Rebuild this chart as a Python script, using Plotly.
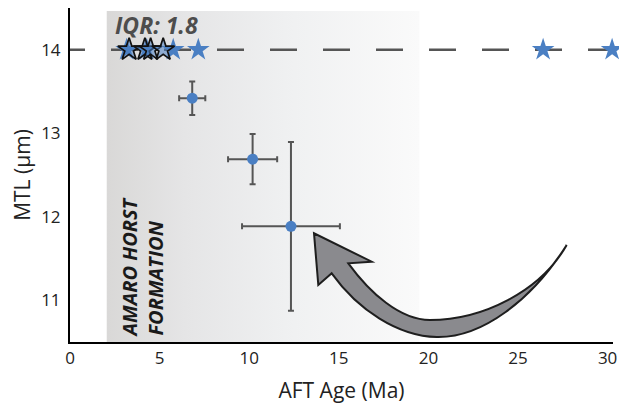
import plotly.graph_objects as go

# ---- data ----
circle_age = [6.82, 10.19, 12.33]
circle_age_err = [0.73, 1.37, 2.73]
circle_mtl = [13.42, 12.69, 11.885]
circle_mtl_err = [0.2, 0.3, 1.01]

blue_star_age = [3.16, 4.28, 5.76, 7.16, 26.4, 30.25]
blue_star_mtl = [14, 14, 14, 14, 14, 14]
open_star_age = [3.3, 4.18, 4.5, 5.2]
open_star_mtl = [14, 14, 14, 14]

ref_mtl = 14
x_ticks = [0, 5, 10, 15, 20, 25, 30]
y_ticks = [11, 12, 13, 14]
shade_x = [2.05, 19.5]
iqr_label = "IQR: 1.8"
zone_label = "AMARO HORST<br>FORMATION"

# ---- layout geometry (page has an 8px body margin) ----
OFF = 8
W, H = 627 - OFF, 408 - OFF
ML, MR, MT, MB = 70 - OFF, 14, 8 - OFF, 66
XR = [0, 30.3]
YR = [10.5, 14.5]
PW = W - ML - MR
PH = H - MT - MB

def px2d(px, py):
    # px, py are page pixel positions in the reference picture
    fx, fy = px - OFF, py - OFF
    x = XR[0] + (fx - ML) / PW * (XR[1] - XR[0])
    y = YR[1] - (fy - MT) / PH * (YR[1] - YR[0])
    return x, y

def pt(px, py):
    x, y = px2d(px, py)
    return f"{x:.4f},{y:.4f}"

BLUE = "#4a7fc3"
GREY = "#555555"
FONT = "Open Sans"

fig = go.Figure()

# gradient shaded zone
top_y = px2d(0, 11)[1]
fig.add_trace(go.Scatter(
    x=[shade_x[0], shade_x[1], shade_x[1], shade_x[0], shade_x[0]],
    y=[YR[0], YR[0], top_y, top_y, YR[0]],
    mode="lines", line=dict(width=0), fill="toself",
    fillgradient=dict(type="horizontal",
                      colorscale=[[0, "#d9d8d7"], [0.25, "#e5e5e6"],
                                  [0.6, "#f0f1f2"], [1, "#fafafa"]]),
    hoverinfo="skip", showlegend=False))

# dashed reference line
fig.add_trace(go.Scatter(
    x=[px2d(58, 0)[0], XR[1] + 1], y=[ref_mtl, ref_mtl],
    mode="lines", line=dict(color=GREY, width=2.5, dash="27px,26px"),
    hoverinfo="skip", showlegend=False))

# circles with error bars
fig.add_trace(go.Scatter(
    x=circle_age, y=circle_mtl, mode="markers",
    marker=dict(color=BLUE, size=11),
    error_x=dict(type="data", array=circle_age_err, color=GREY, thickness=2, width=3),
    error_y=dict(type="data", array=circle_mtl_err, color=GREY, thickness=2, width=3),
    showlegend=False))

# stars: plain blue ones underneath, outlined ones on top
fig.add_trace(go.Scatter(
    x=blue_star_age, y=blue_star_mtl, mode="markers",
    marker=dict(symbol="star", color=BLUE, size=17, line=dict(width=0)),
    cliponaxis=False, showlegend=False))
fig.add_trace(go.Scatter(
    x=open_star_age, y=open_star_mtl, mode="markers",
    marker=dict(symbol="star", color="rgba(74,127,195,0.55)", size=17,
                line=dict(color="#111111", width=1.7)),
    cliponaxis=False, showlegend=False))

# curved arrow (decoration)
arrow_path = (
    "M " + pt(566.7, 245)
    + " C " + pt(532, 300) + " " + pt(482, 338) + " " + pt(436.7, 337)
    + " C " + pt(398, 336) + " " + pt(358, 310) + " " + pt(331.7, 273.3)
    + " L " + pt(318.3, 285)
    + " L " + pt(314, 233.3)
    + " L " + pt(371.7, 261.7)
    + " L " + pt(348.3, 263.3)
    + " C " + pt(370, 293) + " " + pt(400, 320) + " " + pt(430, 320)
    + " C " + pt(482, 320) + " " + pt(540, 292) + " " + pt(566.7, 245)
    + " Z"
)
fig.add_shape(type="path", path=arrow_path, xref="x", yref="y",
              fillcolor="#8a8a8e", line=dict(color="#1e1e1e", width=2),
              layer="above")

# annotations
ix, iy = px2d(156.5, 25)
fig.add_annotation(x=ix, y=iy, text=iqr_label, showarrow=False,
                   xanchor="center", yanchor="middle",
                   font=dict(family=FONT, size=23, color="#4d4d4d",
                             weight="bold", style="italic"))
zx, zy = px2d(141.5, 267)
fig.add_annotation(x=zx, y=zy, text=zone_label, showarrow=False,
                   textangle=-90, align="left",
                   xanchor="center", yanchor="middle",
                   font=dict(family=FONT, size=20, color="#1a1a1a",
                             weight="bold", style="italic"))

fig.update_layout(
    width=W, height=H,
    margin=dict(l=ML, r=MR, t=MT, b=MB, autoexpand=False),
    paper_bgcolor="white", plot_bgcolor="white",
    font=dict(family=FONT, color="#222222"),
    showlegend=False,
)
fig.update_xaxes(range=XR, tickvals=x_ticks, showgrid=False, zeroline=False,
                 showline=True, linecolor="black", linewidth=2, ticks="",
                 automargin=False,
                 tickfont=dict(size=17, color="#222"),
                 title=dict(text="AFT Age (Ma)", font=dict(size=21, color="#222")))
fig.update_yaxes(range=YR, tickvals=y_ticks, showgrid=False, zeroline=False,
                 showline=True, linecolor="black", linewidth=2, ticks="",
                 automargin=False, ticklabelstandoff=4,
                 tickfont=dict(size=17, color="#222"),
                 title=dict(text="MTL (µm)", font=dict(size=21, color="#222")))

fig.write_html("out.html")
